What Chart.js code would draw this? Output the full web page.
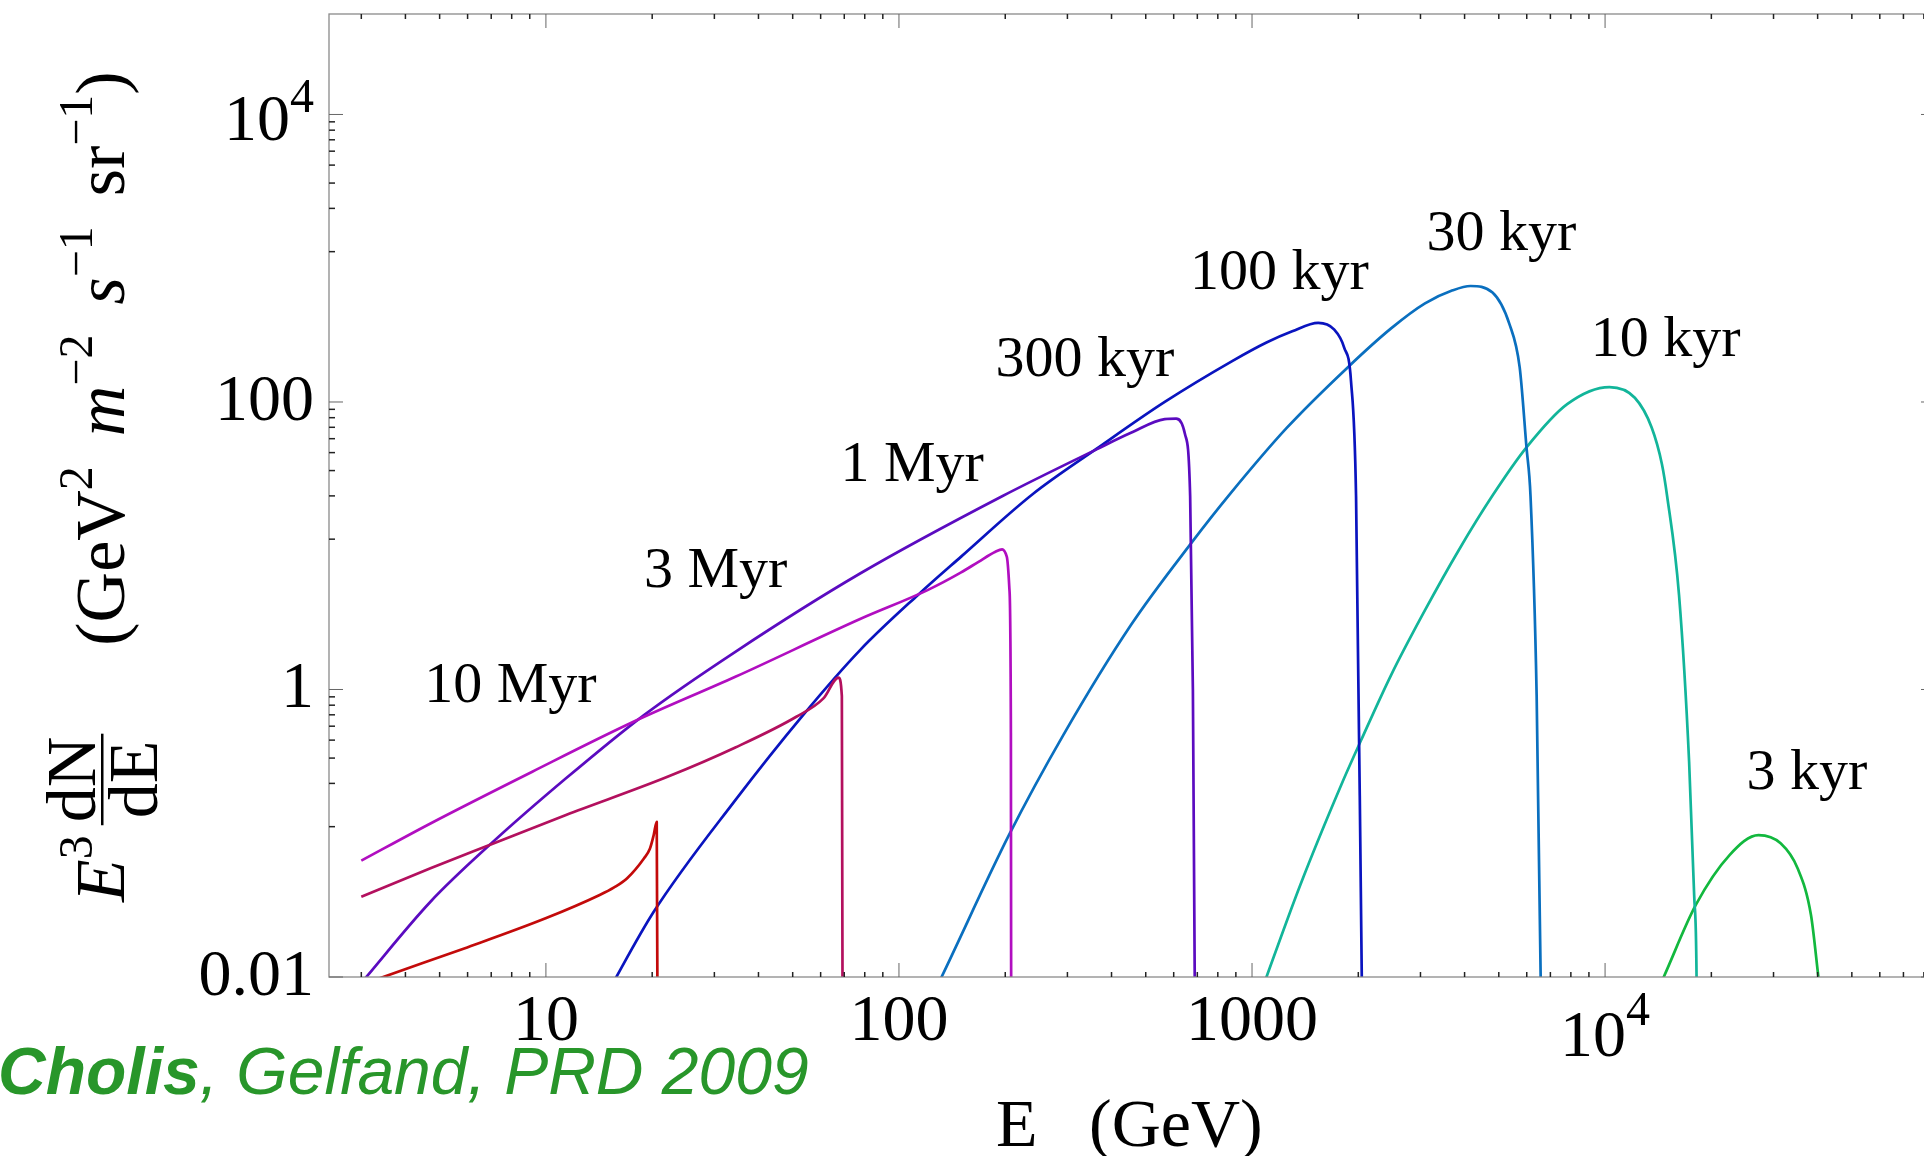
<!DOCTYPE html>
<html>
<head>
<meta charset="utf-8">
<script src="https://cdn.jsdelivr.net/npm/chart.js@4.4.1/dist/chart.umd.min.js"></script>
<style>
  html, body { margin: 0; padding: 0; background: #fff; overflow: hidden; }
  canvas { display: block; }
</style>
</head>
<body>
<canvas id="spectra" width="1940" height="1156"></canvas>
<script>
// pulsar e+e- spectra, E in GeV, E^3 dN/dE in GeV^2 m^-2 s^-1 sr^-1
var ages = ['10 Myr', '3 Myr', '1 Myr', '300 kyr', '100 kyr', '30 kyr', '10 kyr', '3 kyr'];
var colors = ['#c30a0a', '#b3105e', '#b10ec0', '#5b0bc0', '#0a14bf', '#0a6fbf', '#12b59a', '#12b83e'];

var energy10Myr = [3, 3.46, 5.87, 9.98, 14.2, 15.6, 16.96, 18.95, 19.7, 20.2, 20.6, 20.75];
var flux10Myr   = [0.0088, 0.01, 0.0158, 0.0256, 0.0372, 0.042, 0.0485, 0.0668, 0.078, 0.0973, 0.12, 0.001];

var energy3Myr = [3, 4.71, 7.01, 11.4, 22.1, 34.4, 51.2, 61.1, 67.4, 68.9, 69.3];
var flux3Myr   = [0.0362, 0.057, 0.0838, 0.134, 0.247, 0.395, 0.646, 0.867, 1.21, 0.9, 0.001];

var energy1Myr = [3, 4.71, 9.15, 17.7, 34.4, 77.6, 120.5, 150, 168, 187.6, 196, 202, 205.5, 207.5, 208];
var flux1Myr   = [0.0645, 0.117, 0.268, 0.596, 1.225, 3.09, 4.91, 6.52, 7.73, 9.08, 9.42, 8.4, 5.0, 0.5, 0.001];

var energy300kyr = [3, 4.71, 7.01, 11.4, 18.96, 34.4, 77.6, 196, 364, 454, 566, 610, 646, 668, 680, 692];
var flux300kyr   = [0.0091, 0.0334, 0.0851, 0.241, 0.664, 1.83, 6.41, 22.1, 47.0, 61, 75.9, 76.5, 59.7, 22.1, 1, 0.001];

var energy100kyr = [15, 20.2, 34.4, 53.5, 77.6, 113, 150, 239, 364, 566, 881, 1099, 1300, 1540, 1707, 1824, 1907, 1971, 2046, 2070];
var flux100kyr   = [0.0079, 0.0284, 0.170, 0.664, 1.88, 4.53, 8.4, 22.8, 47.5, 100, 193, 259, 310, 355, 320, 239, 140, 22, 0.01, 0.001];

var energy30kyr = [125, 132, 205, 292, 454, 676, 861, 1254, 1866, 2477, 3090, 3700, 4160, 4800, 5360, 5730, 5990, 6150, 6400, 6570, 6620];
var flux30kyr   = [0.0076, 0.01, 0.0973, 0.482, 2.81, 10.6, 22.5, 66, 174, 325, 485, 598, 641, 577, 348, 174, 48.3, 22, 0.91, 0.01, 0.001];

var energy10kyr = [1050, 1099, 1370, 1788, 2038, 2477, 3090, 3850, 4810, 5990, 7810, 10290, 12140, 13550, 14490, 14990, 16200, 17300, 17880, 18160, 18260];
var flux10kyr   = [0.0073, 0.01, 0.0437, 0.216, 0.445, 1.26, 3.56, 9.31, 22.5, 48.3, 96.6, 127, 107, 66.5, 36.9, 22.1, 4.53, 0.314, 0.037, 0.01, 0.001];

var energy3kyr = [14000, 14660, 18070, 22520, 27210, 31420, 35100, 38300, 40200, 40800];
var flux3kyr   = [0.0078, 0.01, 0.0317, 0.0705, 0.0971, 0.0851, 0.057, 0.027, 0.01, 0.0073];

// where each age label sits (left edge, baseline), in data units
var labelEnergy = [4.52, 18.95, 68.3, 187.7, 667, 3122, 9111, 25170];
var labelFlux   = [0.818, 5.16, 28.2, 152.4, 611, 1141, 210, 0.202];

var xTickValues = [10, 100, 1000, 10000];
var xTickLabels = ['10', '100', '1000', '10^4'];
var yTickValues = [0.01, 1, 100, 10000];
var yTickLabels = ['0.01', '1', '100', '10^4'];

var energies = [energy10Myr, energy3Myr, energy1Myr, energy300kyr, energy100kyr, energy30kyr, energy10kyr, energy3kyr];
var fluxes = [flux10Myr, flux3Myr, flux1Myr, flux300kyr, flux100kyr, flux30kyr, flux10kyr, flux3kyr];

var serif = '"Liberation Serif", "Times New Roman", Times, serif';
var sans = '"Liberation Sans", Arial, Helvetica, sans-serif';

function seg(ctx, x1, y1, x2, y2) {
    ctx.beginPath();
    ctx.moveTo(x1, y1);
    ctx.lineTo(x2, y2);
    ctx.stroke();
}

// "10^4" style labels: base plus raised exponent
function drawPow(ctx, label, x, y, align, size, supSize, raise) {
    var parts = label.split('^');
    ctx.font = size + 'px ' + serif;
    var w1 = ctx.measureText(parts[0]).width, w2 = 0;
    if (parts[1]) {
        ctx.font = supSize + 'px ' + serif;
        w2 = ctx.measureText(parts[1]).width;
    }
    var left = align === 'right' ? x - w1 - w2 : (align === 'center' ? x - (w1 + w2) / 2 : x);
    ctx.textAlign = 'left';
    ctx.font = size + 'px ' + serif;
    ctx.fillText(parts[0], left, y);
    if (parts[1]) {
        ctx.font = supSize + 'px ' + serif;
        ctx.fillText(parts[1], left + w1, y - raise);
    }
}

function drawYTitle(ctx, bx, by) {
    var F = 70, S = 48, up = 32, gap = 30;
    ctx.save();
    ctx.translate(bx, by);
    ctx.rotate(-Math.PI / 2);
    ctx.fillStyle = '#000';
    ctx.textAlign = 'left';
    ctx.textBaseline = 'alphabetic';
    var u = 0;
    function put(t, style, size, v) {
        ctx.font = style + size + 'px ' + serif;
        ctx.fillText(t, u, v);
        u += ctx.measureText(t).width;
    }
    put('E', 'italic ', F, 0);
    put('3', '', S, -up);
    u += 10;
    ctx.font = F + 'px ' + serif;
    var wn = ctx.measureText('dN').width, wd = ctx.measureText('dE').width;
    var wf = Math.max(wn, wd) + 6;
    ctx.fillText('dN', u + (wf - wn) / 2, -29);
    ctx.fillText('dE', u + (wf - wd) / 2, 33);
    ctx.fillRect(u, -23, wf, 2.5);
    u += wf + 0.9 * F + 25;
    put('(GeV', '', F, 0);
    put('2', '', S, -up);
    u += gap;
    put('m', 'italic ', F, 0);
    put('\u22122', '', S, -up);
    u += gap;
    put('s', 'italic ', F, 0);
    put('\u22121', '', S, -up);
    u += gap;
    put('sr', '', F, 0);
    put('\u22121', '', S, -up);
    put(')', '', F, 0);
    ctx.restore();
}

var decor = {
    id: 'decor',
    afterDraw: function(chart) {
        var ctx = chart.ctx, a = chart.chartArea;
        var xs = chart.scales.x, ys = chart.scales.y;
        ctx.save();
        ctx.textBaseline = 'alphabetic';
        ctx.fillStyle = '#000';

        // age labels
        ctx.font = '58px ' + serif;
        ctx.textAlign = 'left';
        ages.forEach(function(t, i) {
            ctx.fillText(t, xs.getPixelForValue(labelEnergy[i]), ys.getPixelForValue(labelFlux[i]));
        });

        // frame
        ctx.strokeStyle = '#8a8a8a';
        ctx.lineWidth = 1.3;
        ctx.strokeRect(a.left, a.top, a.right - a.left, a.bottom - a.top);

        // minor ticks
        ctx.strokeStyle = '#222';
        ctx.lineWidth = 1.5;
        for (var d = 0; d <= 4; d++) {
            for (var k = 2; k <= 9; k++) {
                var v = k * Math.pow(10, d);
                if (v <= xs.min || v >= xs.max) continue;
                var px = xs.getPixelForValue(v);
                seg(ctx, px, a.bottom, px, a.bottom - 5);
                seg(ctx, px, a.top, px, a.top + 5);
            }
        }
        yTickValues.forEach(function(m) {
            for (var k = 1; k <= 8; k++) {
                var v = m * k / 9;
                if (v <= ys.min || v >= ys.max) continue;
                var py = ys.getPixelForValue(v);
                seg(ctx, a.left, py, a.left + 6, py);
                seg(ctx, a.right, py, a.right - 6, py);
            }
        });

        // major ticks
        ctx.strokeStyle = '#666';
        ctx.lineWidth = 1;
        xTickValues.forEach(function(v) {
            var px = xs.getPixelForValue(v);
            seg(ctx, px, a.bottom, px, a.bottom - 14);
            seg(ctx, px, a.top, px, a.top + 14);
        });
        yTickValues.forEach(function(v) {
            var py = ys.getPixelForValue(v);
            seg(ctx, a.left, py, a.left + 14, py);
            seg(ctx, a.right, py, a.right - 14, py);
        });

        // tick labels
        xTickValues.forEach(function(v, i) {
            var px = xs.getPixelForValue(v);
            var pow = xTickLabels[i].indexOf('^') >= 0;
            drawPow(ctx, xTickLabels[i], px, a.bottom + (pow ? 79 : 63), 'center', 66, 48, 31);
        });
        yTickValues.forEach(function(v, i) {
            var py = ys.getPixelForValue(v);
            var pow = yTickLabels[i].indexOf('^') >= 0;
            drawPow(ctx, yTickLabels[i], a.left - 15, py + (pow ? 26 : 18), 'right', 66, 48, 28);
        });

        // axis titles
        var cx = (a.left + a.right) / 2;
        ctx.font = '68px ' + serif;
        ctx.textAlign = 'left';
        ctx.fillText('E', cx - 136, a.bottom + 169);
        ctx.fillText('(GeV)', cx - 43, a.bottom + 169);
        drawYTitle(ctx, 124, 902);

        // citation
        ctx.fillStyle = '#28962a';
        ctx.font = 'italic bold 66px ' + sans;
        ctx.fillText('Cholis', -2, 1094);
        var w = ctx.measureText('Cholis').width;
        ctx.font = 'italic 66px ' + sans;
        ctx.fillText(', Gelfand, PRD 2009', -2 + w, 1094);
        ctx.restore();
    }
};

new Chart(document.getElementById('spectra'), {
    type: 'scatter',
    data: {
        datasets: ages.map(function(age, i) {
            return {
                label: age,
                data: energies[i].map(function(e, j) { return { x: e, y: fluxes[i][j] }; }),
                showLine: true,
                borderColor: colors[i],
                borderWidth: 2.7,
                borderJoinStyle: 'round',
                pointRadius: 0,
                cubicInterpolationMode: 'monotone',
                fill: false,
                clip: 0
            };
        })
    },
    options: {
        responsive: false,
        animation: false,
        events: [],
        layout: { padding: { left: 329, top: 14, right: 5, bottom: 179 } },
        scales: {
            x: { type: 'logarithmic', min: 2.43, max: 86000, display: false },
            y: { type: 'logarithmic', min: 0.01, max: 50000, display: false }
        },
        plugins: { legend: { display: false }, tooltip: { enabled: false } }
    },
    plugins: [decor]
});
</script>
</body>
</html>
